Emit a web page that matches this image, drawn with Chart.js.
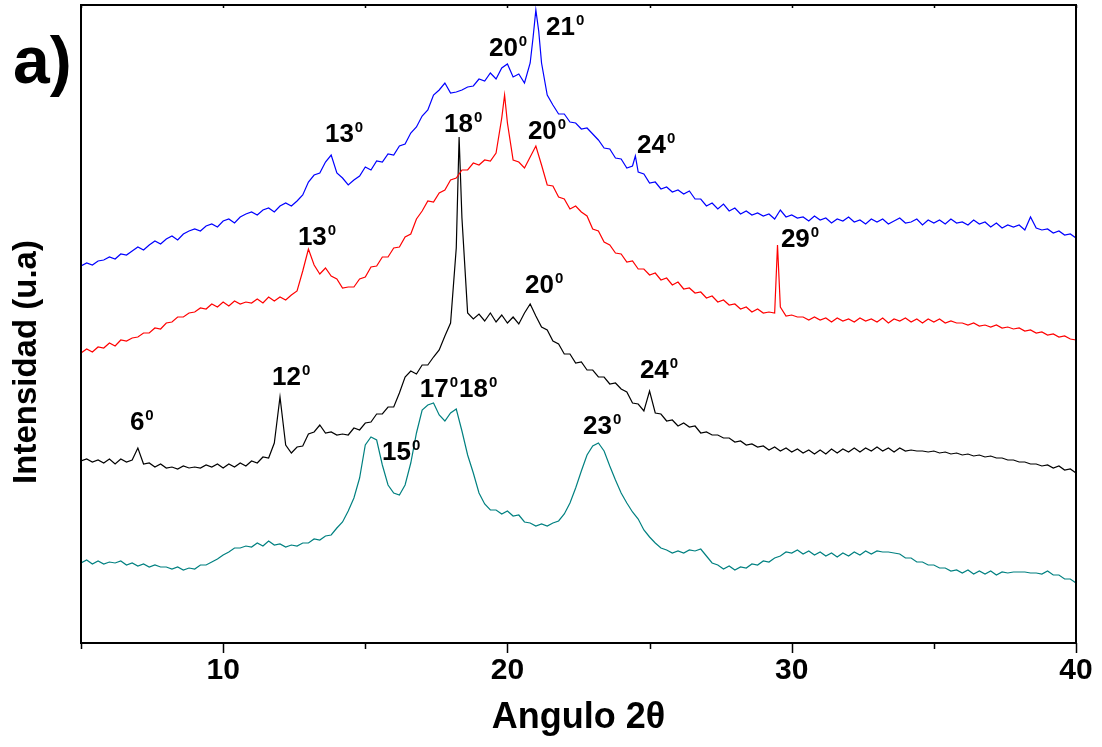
<!DOCTYPE html>
<html>
<head>
<meta charset="utf-8">
<script src="https://cdn.jsdelivr.net/npm/chart.js@4"></script>
<style>
  body { margin: 0; background: #fff; }
</style>
</head>
<body>
<canvas id="chart1" width="1102" height="747"></canvas>
<script>
// scan grid, 2-theta from 5 to 40 in 0.2 degree steps
const gridAngles = Array.from({ length: 176 }, (_, i) => Math.round((5 + i * 0.2) * 10) / 10);

const blueValues = [
  377, 380, 378, 382, 383, 386, 384, 389, 388, 392,
  396, 393, 398, 402, 399, 404, 407, 403, 409, 412,
  414, 412, 417, 419, 416, 422, 424, 420, 426, 429,
  431, 428, 433, 435, 431, 437, 440, 437, 442, 448,
  461, 468, 470, 481, 488, 470, 465, 458, 463, 467,
  476, 473, 482, 481, 489, 488, 497, 499, 510, 516,
  527, 533, 548, 553, 560, 550, 551, 553, 556, 557,
  564, 562, 570, 564, 575, 579, 566, 569, 560, 580,
  633, 580, 548, 538, 529, 529, 521, 520, 514, 515,
  509, 503, 495, 494, 485, 484, 475, 477, 471, 469,
  460, 461, 454, 456, 451, 453, 449, 452, 444, 444,
  437, 440, 434, 439, 432, 435, 429, 432, 428, 430,
  427, 429, 424, 433, 426, 428, 425, 426, 422, 427,
  423, 425, 420, 424, 422, 426, 421, 423, 419, 424,
  421, 424, 419, 422, 425, 420, 421, 424, 418, 423,
  420, 423, 419, 424, 420, 421, 418, 423, 419, 421,
  416, 420, 415, 418, 416, 418, 413, 426, 415, 413,
  414, 410, 412, 408, 409, 405
];
const redValues = [
  290, 294, 291, 296, 295, 300, 297, 303, 302, 305,
  306, 310, 310, 315, 314, 320, 321, 326, 326, 330,
  331, 335, 334, 339, 336, 341, 337, 342, 339, 341,
  340, 344, 340, 346, 342, 346, 343, 348, 352, 372,
  394, 378, 369, 375, 367, 364, 355, 356, 356, 364,
  366, 376, 377, 386, 386, 395, 396, 406, 409, 424,
  432, 442, 441, 450, 453, 463, 465, 473, 473, 480,
  478, 483, 482, 490, 525, 520, 483, 481, 475, 486,
  497, 478, 458, 457, 446, 444, 434, 437, 431, 427,
  414, 412, 401, 398, 390, 389, 381, 382, 374, 374,
  368, 370, 363, 365, 358, 361, 354, 355, 350, 351,
  345, 347, 341, 343, 338, 339, 334, 336, 331, 334,
  330, 331, 330, 336, 327, 328, 326, 326, 323, 326,
  323, 325, 321, 325, 322, 324, 321, 325, 322, 324,
  321, 325, 320, 324, 322, 325, 321, 324, 320, 324,
  321, 324, 320, 322, 320, 320, 318, 320, 317, 318,
  316, 318, 315, 316, 314, 315, 312, 313, 310, 311,
  308, 309, 306, 307, 304, 303
];
const blackValues = [
  182, 184, 181, 183, 180, 184, 179, 184, 181, 183,
  195, 179, 180, 176, 179, 175, 176, 174, 177, 175,
  176, 175, 178, 176, 179, 175, 179, 176, 180, 177,
  182, 180, 186, 185, 200, 246, 198, 190, 196, 197,
  209, 211, 218, 210, 211, 208, 209, 208, 215, 213,
  220, 221, 229, 229, 236, 236, 250, 266, 272, 269,
  278, 278, 286, 293, 307, 320, 395, 425, 330, 324,
  329, 322, 330, 321, 328, 320, 326, 319, 330, 339,
  327, 316, 313, 302, 299, 289, 289, 280, 281, 273,
  273, 266, 266, 259, 260, 254, 251, 240, 239, 232,
  252, 230, 229, 222, 223, 217, 220, 216, 217, 210,
  211, 208, 208, 205, 205, 201, 202, 198, 199, 196,
  197, 193, 196, 192, 195, 191, 194, 190, 193, 189,
  193, 189, 194, 190, 194, 191, 195, 191, 195, 192,
  196, 192, 195, 191, 195, 192, 193, 192, 192, 191,
  192, 190, 191, 189, 190, 188, 189, 187, 188, 186,
  187, 185, 185, 183, 183, 181, 181, 179, 179, 177,
  178, 175, 177, 173, 174, 170
];
const tealValues = [
  80, 83, 79, 82, 79, 81, 80, 82, 78, 80,
  77, 79, 76, 78, 76, 76, 74, 76, 73, 75,
  74, 78, 78, 81, 84, 88, 91, 95, 95, 97,
  96, 100, 97, 102, 98, 99, 96, 98, 97, 100,
  100, 104, 103, 107, 108, 115, 121, 132, 145, 165,
  198, 206, 203, 178, 158, 150, 148, 158, 180, 210,
  233, 238, 240, 228, 222, 230, 234, 212, 188, 170,
  150, 139, 133, 133, 129, 132, 127, 128, 121, 120,
  117, 119, 117, 120, 122, 129, 140, 155, 172, 188,
  197, 200, 192, 177, 163, 150, 140, 131, 124, 113,
  106, 100, 95, 93, 90, 92, 90, 93, 92, 94,
  87, 80, 78, 74, 77, 73, 76, 75, 79, 78,
  82, 81, 85, 87, 91, 90, 93, 89, 92, 88,
  91, 87, 90, 86, 90, 87, 91, 88, 92, 89,
  92, 91, 91, 90, 89, 85, 85, 81, 81, 78,
  78, 75, 75, 72, 73, 70, 73, 69, 72, 69,
  72, 68, 71, 70, 71, 71, 71, 70, 70, 69,
  72, 68, 68, 64, 64, 60
];

// sharp reflections that fall between grid points
const blueExtraAngles = [20.9, 21.1, 24.5];
const blueExtraValues = [605, 612, 487];
const redExtraAngles = [19.9, 29.5];
const redExtraValues = [548, 398];
const blackExtraAngles = [18.3];
const blackExtraValues = [506];

// peak labels: text, angle, intensity (left / baseline of the label)
const labelTexts = ['13', '20', '21', '24', '13', '20', '29', '18', '20', '12', '6', '24', '17', '18', '15', '23'];
const labelAngles = [13.58, 19.35, 21.36, 24.56, 12.63, 20.72, 29.62, 17.77, 20.62, 11.72, 6.72, 24.66, 16.92, 18.30, 15.59, 22.66];
const labelIntensity = [501, 587, 608, 490, 398, 504, 396, 511, 350, 258, 213, 265, 246, 246, 183, 209];

const tickAngles = [5, 10, 15, 20, 25, 30, 35, 40];

const FONT = '"Liberation Sans", Arial, sans-serif';

function buildSeries(values, extraAngles = [], extraValues = []) {
  const pts = gridAngles.map((a, i) => ({ x: a, y: values[i] }));
  extraAngles.forEach((a, i) => pts.push({ x: a, y: extraValues[i] }));
  return pts.sort((p, q) => p.x - q.x);
}

const decor = {
  id: 'decor',
  afterDraw(chart) {
    const { ctx, chartArea: a, scales: { x, y } } = chart;
    ctx.save();
    ctx.strokeStyle = '#000';
    ctx.lineWidth = 2;
    ctx.strokeRect(a.left, a.top, a.right - a.left, a.bottom - a.top);

    ctx.lineWidth = 1.5;
    tickAngles.forEach(v => {
      const px = Math.round(x.getPixelForValue(v)) + 0.5;
      const len = v % 10 === 0 ? 10 : 6;
      ctx.beginPath();
      ctx.moveTo(px, a.bottom);
      ctx.lineTo(px, a.bottom + len);
      ctx.moveTo(px, a.top);
      ctx.lineTo(px, a.top + 3);
      ctx.stroke();
    });

    ctx.fillStyle = '#000';
    ctx.textAlign = 'left';
    ctx.textBaseline = 'alphabetic';
    labelTexts.forEach((t, i) => {
      const px = x.getPixelForValue(labelAngles[i]);
      const py = y.getPixelForValue(labelIntensity[i]);
      ctx.font = 'bold 26px ' + FONT;
      ctx.fillText(t, px, py);
      const w = ctx.measureText(t).width;
      ctx.font = 'bold 15px ' + FONT;
      ctx.fillText('0', px + w + 1, py - 10);
    });

    ctx.font = 'bold 66px ' + FONT;
    ctx.fillText('a)', 13, 83);

    ctx.translate(27, 362);
    ctx.rotate(-Math.PI / 2);
    ctx.textAlign = 'center';
    ctx.textBaseline = 'middle';
    ctx.font = 'bold 33px ' + FONT;
    ctx.fillText('Intensidad (u.a)', 0, 0);
    ctx.restore();
  }
};

const line = (data, color) => ({
  data,
  borderColor: color,
  borderWidth: 1.2,
  pointRadius: 0,
  tension: 0,
  fill: false
});

new Chart(document.getElementById('chart1'), {
  type: 'line',
  data: {
    datasets: [
      line(buildSeries(blueValues, blueExtraAngles, blueExtraValues), '#0000ff'),
      line(buildSeries(redValues, redExtraAngles, redExtraValues), '#ff0000'),
      line(buildSeries(blackValues, blackExtraAngles, blackExtraValues), '#000000'),
      line(buildSeries(tealValues), '#008080')
    ]
  },
  options: {
    responsive: false,
    animation: false,
    layout: { padding: { top: 5, right: 26, left: 0, bottom: 0 } },
    plugins: { legend: { display: false }, tooltip: { enabled: false } },
    scales: {
      x: {
        type: 'linear',
        min: 5,
        max: 40,
        grid: { display: false, drawTicks: true, tickLength: 10 },
        border: { display: false },
        ticks: {
          stepSize: 5,
          padding: 0,
          color: '#000',
          font: { family: FONT, size: 30, weight: 'bold' },
          maxRotation: 0,
          callback: v => (v % 10 === 0 ? v : '')
        },
        title: {
          display: true,
          text: 'Angulo 2θ',
          color: '#000',
          font: { family: FONT, size: 36, weight: 'bold' },
          padding: { top: 0, bottom: 7 }
        },
        afterFit: s => { s.height = 104; }
      },
      y: {
        min: 0,
        max: 638,
        grid: { display: false },
        border: { display: false },
        ticks: { display: false },
        afterFit: s => { s.width = 81; }
      }
    }
  },
  plugins: [decor]
});
</script>
</body>
</html>
